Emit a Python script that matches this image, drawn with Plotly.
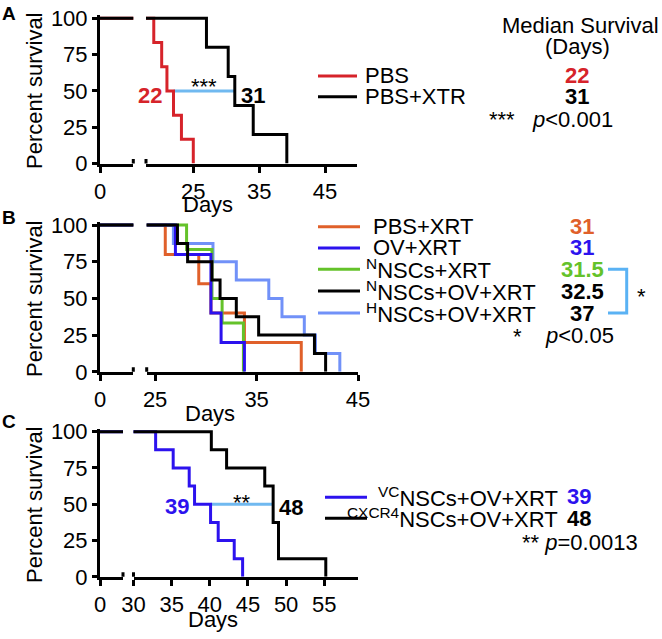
import plotly.graph_objects as go

W, H = 662, 639
FONT = "Liberation Sans, Arial, Helvetica, sans-serif"

# ---------------- data ----------------
# Panel A
a_pbs_days = [0, 19, 20.2, 21, 22, 23.2, 25]
a_pbs_surv = [100, 83.3, 66.7, 50, 33.3, 16.7, 0]
a_xtr_days = [0, 27, 30.3, 31.3, 34.1, 39.2]
a_xtr_surv = [100, 80, 60, 40, 20, 0]
a_labels = ["PBS", "PBS+XTR"]
a_medians = [22, 31]

# Panel B
b_pbs_days = [0, 26.0, 29.3, 30.5, 33.8, 39.4]
b_pbs_surv = [100, 80, 60, 40, 20, 0]
b_ov_days = [0, 27.0, 30.5, 31.5, 33.8]
b_ov_surv = [100, 80, 40, 20, 0]
b_nnsc_days = [0, 28.1, 30.6, 31.6, 33.7]
b_nnsc_surv = [100, 83.3, 50, 33.3, 0]
b_nnscov_days = [0, 27.2, 28.2, 30.6, 31.4, 33.0, 35.2, 40.7, 41.8]
b_nnscov_surv = [100, 87.5, 75, 62.5, 50, 37.5, 25, 12.5, 0]
b_hnscov_days = [0, 26.8, 30.7, 33.0, 36.2, 37.5, 39.7, 40.8, 43.2]
b_hnscov_surv = [100, 87.5, 75, 62.5, 50, 37.5, 25, 12.5, 0]
b_labels = ["PBS+XRT", "OV+XRT", "<sup>N</sup>NSCs+XRT",
            "<sup>N</sup>NSCs+OV+XRT", "<sup>H</sup>NSCs+OV+XRT"]
b_medians = [31, 31, 31.5, 32.5, 37]

# Panel C
c_vc_days = [0, 32.9, 35.2, 37.3, 38.0, 40.1, 41.1, 43.2, 44.3]
c_vc_surv = [100, 87.5, 75, 62.5, 50, 37.5, 25, 12.5, 0]
c_cx_days = [0, 40.2, 42.2, 47.2, 48.3, 49.0, 55.2]
c_cx_surv = [100, 87.5, 75, 62.5, 37.5, 12.5, 0]
c_labels = ["<sup>VC</sup>NSCs+OV+XRT", "<sup>CXCR4</sup>NSCs+OV+XRT"]
c_medians = [39, 48]

y_ticks = [0, 25, 50, 75, 100]
left_ticks = [0]
a_xticks = [25, 35, 45]
b_xticks = [25, 35, 45]
c_xticks = [30, 35, 40, 45, 50, 55]

# ---------------- styles ----------------
RED = "#d6232a"
ORANGE = "#e0602a"
BLUE = "#2c12ee"
GREEN = "#64c22a"
LBLUE = "#7191f8"
MEDLINE = "#70b9f0"
BLACK = "#000000"


def fx(x):
    return x / W


def fy(y):
    return 1 - y / H


fig = go.Figure()
layout = dict(template="none", width=W, height=H, autosize=False,
              margin=dict(l=0, r=0, t=0, b=0, pad=0),
              paper_bgcolor="white", plot_bgcolor="white",
              showlegend=False, font=dict(family=FONT, color="black", size=22))
annotations = []
shapes = []


def xaxis(d0, d1, rng, ticks, anchor):
    return dict(domain=[fx(d0), fx(d1)], range=rng, tickvals=ticks, anchor=anchor,
                showline=True, linewidth=3, linecolor="black", automargin=False,
                ticks="outside", ticklen=6, tickwidth=3, tickcolor="black",
                showgrid=False, zeroline=False, fixedrange=True,
                tickfont=dict(size=22, color="black", family=FONT))


def yaxis(top_px, bottom_px, anchor):
    return dict(domain=[fy(bottom_px), fy(top_px)], range=[0, 102], tickvals=y_ticks,
                anchor=anchor, showline=True, linewidth=3, linecolor="black",
                automargin=False,
                ticks="outside", ticklen=5, tickwidth=3, tickcolor="black",
                showgrid=False, zeroline=False, fixedrange=True,
                tickfont=dict(size=22, color="black", family=FONT))


def ann(x, y, text, xanchor="center", size=22, color="black", xref="paper", yref="paper",
        xshift=0, yshift=0, angle=0, bold=False):
    if bold:
        text = "<b>" + text + "</b>"
    a = dict(x=x, y=y, text=text, showarrow=False, xanchor=xanchor, yanchor="middle",
             xref=xref, yref=yref, xshift=xshift, yshift=yshift, textangle=angle,
             font=dict(size=size, color=color, family=FONT))
    if xref == "paper":
        a["x"] = fx(x)
    if yref == "paper":
        a["y"] = fy(y)
    annotations.append(a)


def first_below(days, surv):
    for d, s in zip(days, surv):
        if s < 50:
            return d


def add_curves(series, xl, xr, yref):
    for days, surv, color in series:
        for xa in (xl, xr):
            fig.add_trace(go.Scatter(x=days, y=surv, mode="lines", line_shape="hv",
                                     line=dict(color=color, width=3),
                                     xaxis=xa, yaxis=yref, hoverinfo="skip"))


def add_caps(xl_name, xr_name, yref):
    for xr_, pos in ((xl_name, 1), (xr_name, 0)):
        shapes.append(dict(type="line", xref=xr_ + " domain", yref=yref,
                           x0=pos, x1=pos, ysizemode="pixel", yanchor=0,
                           y0=-7.5, y1=4.5, line=dict(color="black", width=3)))


def legend_line(x0, x1, y, color):
    shapes.append(dict(type="line", xref="paper", yref="paper",
                       x0=fx(x0), x1=fx(x1), y0=fy(y), y1=fy(y),
                       line=dict(color=color, width=3)))


# ---------------- Panel A ----------------
layout["xaxis"] = xaxis(100, 133.3, [0, 5], left_ticks, "y")
layout["xaxis2"] = xaxis(146, 356.7, [17.82, 49.81], a_xticks, "y")
layout["yaxis"] = yaxis(15.4, 163.5, "x")

a_line = [first_below(a_pbs_days, a_pbs_surv), first_below(a_xtr_days, a_xtr_surv)]
fig.add_trace(go.Scatter(x=a_line, y=[50, 50], mode="lines", line=dict(color=MEDLINE, width=3),
                         xaxis="x2", yaxis="y", hoverinfo="skip"))
add_curves([(a_pbs_days, a_pbs_surv, RED), (a_xtr_days, a_xtr_surv, BLACK)], "x", "x2", "y")
add_caps("x", "x2", "y")

ann(a_medians[0], 50, str(a_medians[0]), xanchor="right", color=RED, xref="x2", yref="y",
    xshift=-10, yshift=-5, bold=True)
ann(a_medians[1], 50, str(a_medians[1]), xanchor="left", color=BLACK, xref="x2", yref="y",
    xshift=6, yshift=-5, bold=True)
ann((a_line[0] + a_line[1]) / 2, 50, "***", xref="x2", yref="y", yshift=4)

legend_line(318, 357, 76, RED)
legend_line(318, 357, 96.7, BLACK)
ann(363, 75.5, a_labels[0], xanchor="left")
ann(363, 96.5, a_labels[1], xanchor="left")
ann(580, 25.8, "Median Survival")
ann(577, 46, "(Days)")
ann(577, 75.3, str(a_medians[0]), color=RED, bold=True)
ann(577, 96.3, str(a_medians[1]), color=BLACK, bold=True)
ann(502, 119, "***")
ann(530, 119, "<i>p</i>&lt;0.001", xanchor="left")

ann(9, 13.5, "A", size=19, bold=True)
ann(34, 91, "Percent survival", angle=-90)
ann(208, 204.5, "Days")

# ---------------- Panel B ----------------
layout["xaxis3"] = xaxis(100, 133.3, [0, 5], left_ticks, "y2")
layout["xaxis4"] = xaxis(146.7, 358.3, [24.17, 45.02], b_xticks, "y2")
layout["yaxis2"] = yaxis(222.1, 371.8, "x3")

add_curves([(b_hnscov_days, b_hnscov_surv, LBLUE),
            (b_pbs_days, b_pbs_surv, ORANGE),
            (b_nnsc_days, b_nnsc_surv, GREEN),
            (b_ov_days, b_ov_surv, BLUE),
            (b_nnscov_days, b_nnscov_surv, BLACK)], "x3", "x4", "y2")
add_caps("x3", "x4", "y2")

b_colors = [ORANGE, BLUE, GREEN, BLACK, LBLUE]
b_med_colors = [ORANGE, BLUE, GREEN, BLACK, BLACK]
b_rows = [226.7, 247.9, 269.3, 291.0, 313.0]
b_text_x = [370.7, 370.7, 364, 364, 364]
for lab, col, mcol, med, yy, tx in zip(b_labels, b_colors, b_med_colors, b_medians, b_rows, b_text_x):
    legend_line(318, 360, yy, col)
    ann(tx, yy, lab, xanchor="left")
    ann(582, yy, str(med), color=mcol, bold=True)

shapes.append(dict(type="path", xref="paper", yref="paper",
                   path="M {},{} L {},{} L {},{} L {},{}".format(
                       fx(608), fy(269.3), fx(626.7), fy(269.3),
                       fx(626.7), fy(313.0), fx(608), fy(313.0)),
                   line=dict(color="#5ab2f4", width=3)))
ann(641, 296.5, "*")
ann(517, 336, "*")
ann(543, 335, "<i>p</i>&lt;0.05", xanchor="left")

ann(8.5, 217.5, "B", size=19, bold=True)
ann(34, 299, "Percent survival", angle=-90)
ann(210, 413.5, "Days")

# ---------------- Panel C ----------------
layout["xaxis5"] = xaxis(100, 123, [0, 5], left_ticks, "y3")
layout["xaxis6"] = xaxis(133.5, 358.3, [30, 59.46], c_xticks, "y3")
layout["yaxis3"] = yaxis(428.8, 576.8, "x5")

c_line = [first_below(c_vc_days, c_vc_surv), first_below(c_cx_days, c_cx_surv)]
fig.add_trace(go.Scatter(x=c_line, y=[50, 50], mode="lines", line=dict(color=MEDLINE, width=3),
                         xaxis="x6", yaxis="y3", hoverinfo="skip"))
add_curves([(c_vc_days, c_vc_surv, BLUE), (c_cx_days, c_cx_surv, BLACK)], "x5", "x6", "y3")
add_caps("x5", "x6", "y3")

ann(c_medians[0], 50, str(c_medians[0]), xanchor="right", color=BLUE, xref="x6", yref="y3",
    xshift=-11, yshift=-2.5, bold=True)
ann(c_medians[1], 50, str(c_medians[1]), xanchor="left", color=BLACK, xref="x6", yref="y3",
    xshift=6, yshift=-3, bold=True)
ann((c_line[0] + c_line[1]) / 2, 50, "**", xref="x6", yref="y3", yshift=2)

legend_line(325, 367, 497.3, BLUE)
legend_line(325, 367, 518.3, BLACK)
ann(560, 496.7, c_labels[0], xanchor="right")
ann(560, 518.3, c_labels[1], xanchor="right")
ann(565, 496.7, str(c_medians[0]), xanchor="left", color=BLUE, bold=True)
ann(565, 518.3, str(c_medians[1]), xanchor="left", color=BLACK, bold=True)
ann(520, 542, "** <i>p</i>=0.0013", xanchor="left")

ann(8.5, 421.5, "C", size=19, bold=True)
ann(34, 505, "Percent survival", angle=-90)
ann(213, 619.5, "Days")

layout["annotations"] = annotations
layout["shapes"] = shapes
fig.update_layout(**layout)
fig.write_html("out.html", config={"displayModeBar": False},
               post_script="document.body.style.margin='0';document.body.style.padding='0';")
